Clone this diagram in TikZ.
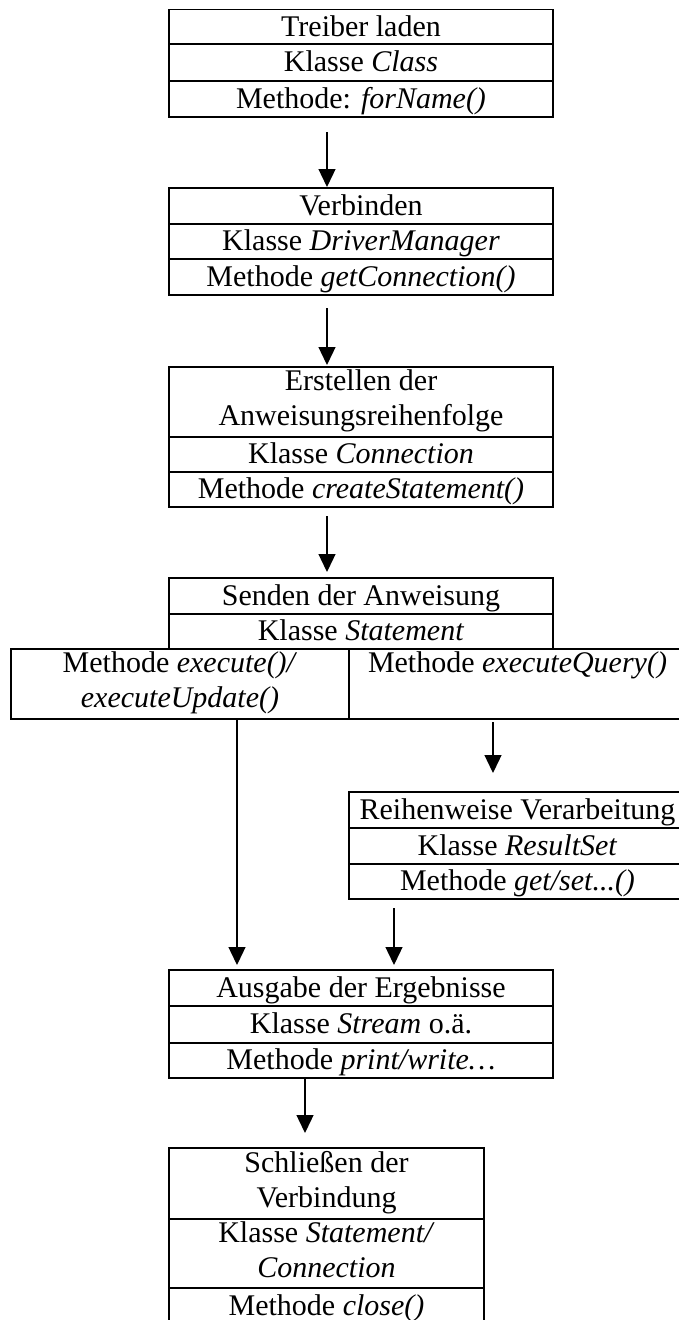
\documentclass[tikz,border=0pt]{standalone}
\usepackage{fontspec}
\setmainfont{Liberation Serif}
\usetikzlibrary{arrows.meta}
\newcommand{\rowstrut}{\rule[-8.5pt]{0pt}{35pt}}
\begin{document}
\begin{tikzpicture}[x=1pt,y=-1pt,
  cell/.style={draw, line width=1.9pt, inner sep=0pt, outer sep=0pt, align=center,
    font=\fontsize{30}{35}\selectfont, execute at begin node=\rowstrut},
  arr/.style={line width=1.3pt, -{Triangle[length=18pt,width=17pt]}}]
\useasboundingbox (0,0) rectangle (679,1320);
% Box 1
\node[cell, minimum width=384pt, minimum height=34pt] (b1a) at (361,27) {Treiber laden};
\node[cell, minimum width=384pt, minimum height=37pt] (b1b) at (361,62.5) {Klasse \textit{Class}};
\node[cell, minimum width=384pt, minimum height=36pt] (b1c) at (361,99) {Methode: \textit{forName()}};
% Box 2
\node[cell, minimum width=384pt, minimum height=36pt] (b2a) at (361,206) {Verbinden};
\node[cell, minimum width=384pt, minimum height=35pt] (b2b) at (361,241.5) {Klasse \textit{DriverManager}};
\node[cell, minimum width=384pt, minimum height=36pt] (b2c) at (361,277) {Methode \textit{getConnection()}};
% Box 3
\node[cell, minimum width=384pt, minimum height=70pt] (b3a) at (361,402) {Erstellen der\\\rowstrut Anweisungsreihenfolge};
\node[cell, minimum width=384pt, minimum height=35pt] (b3b) at (361,454.5) {Klasse \textit{Connection}};
\node[cell, minimum width=384pt, minimum height=35pt] (b3c) at (361,489.5) {Methode \textit{createStatement()}};
% Box 4
\node[cell, minimum width=384pt, minimum height=36pt] (b4a) at (361,596) {Senden der Anweisung};
\node[cell, minimum width=384pt, minimum height=35pt] (b4b) at (361,631.5) {Klasse \textit{Statement}};
\node[cell, minimum width=338pt, minimum height=70pt] (wl) at (180,684) {Methode \textit{execute()/}\\\rowstrut\textit{executeUpdate()}};
\node[cell, minimum width=337pt, minimum height=70pt] (wr) at (517.5,684) {Methode \textit{executeQuery()}\\\rowstrut};
% ResultSet
\node[cell, minimum width=337pt, minimum height=36pt] (r1) at (517.5,810) {Reihenweise Verarbeitung};
\node[cell, minimum width=337pt, minimum height=36pt] (r2) at (517.5,846) {Klasse \textit{ResultSet}};
\node[cell, minimum width=337pt, minimum height=35pt] (r3) at (517.5,881.5) {Methode \textit{get/set...()}};
% Box 6
\node[cell, minimum width=384pt, minimum height=36pt] (b6a) at (361,988) {Ausgabe der Ergebnisse};
\node[cell, minimum width=384pt, minimum height=37pt] (b6b) at (361,1024.5) {Klasse \textit{Stream} o.ä.};
\node[cell, minimum width=384pt, minimum height=35pt] (b6c) at (361,1060.5) {Methode \textit{print/write…}};
% Box 7
\node[cell, minimum width=315pt, minimum height=71pt] (b7a) at (326.5,1183.5) {Schließen der\\\rowstrut Verbindung};
\node[cell, minimum width=315pt, minimum height=69pt] (b7b) at (326.5,1253.5) {Klasse \textit{Statement/}\\\rowstrut\textit{Connection}};
\node[cell, minimum width=315pt, minimum height=36pt] (b7c) at (326.5,1306) {Methode \textit{close()}};
% Arrows
\draw[arr, shorten <=15pt, shorten >=1pt] ([xshift=-34pt]b1c.south) -- ([xshift=-34pt]b2a.north);
\draw[arr, shorten <=13pt, shorten >=2pt] ([xshift=-34pt]b2c.south) -- ([xshift=-34pt]b3a.north);
\draw[arr, shorten <=9pt, shorten >=6pt] ([xshift=-34pt]b3c.south) -- ([xshift=-34pt]b4a.north);
\draw[arr, shorten <=3pt, shorten >=19pt] ([xshift=-24.5pt]wr.south) -- ([xshift=-24.5pt]r1.north);
\draw[arr, shorten >=5pt] ([xshift=57pt]wl.south) -- ([xshift=-124pt]b6a.north);
\draw[arr, shorten <=9pt, shorten >=5pt] ([xshift=-123.5pt]r3.south) -- ([xshift=33pt]b6a.north);
\draw[arr, shorten >=15pt] ([xshift=-56pt]b6c.south) -- ([xshift=-21.5pt]b7a.north);
\end{tikzpicture}
\end{document}
